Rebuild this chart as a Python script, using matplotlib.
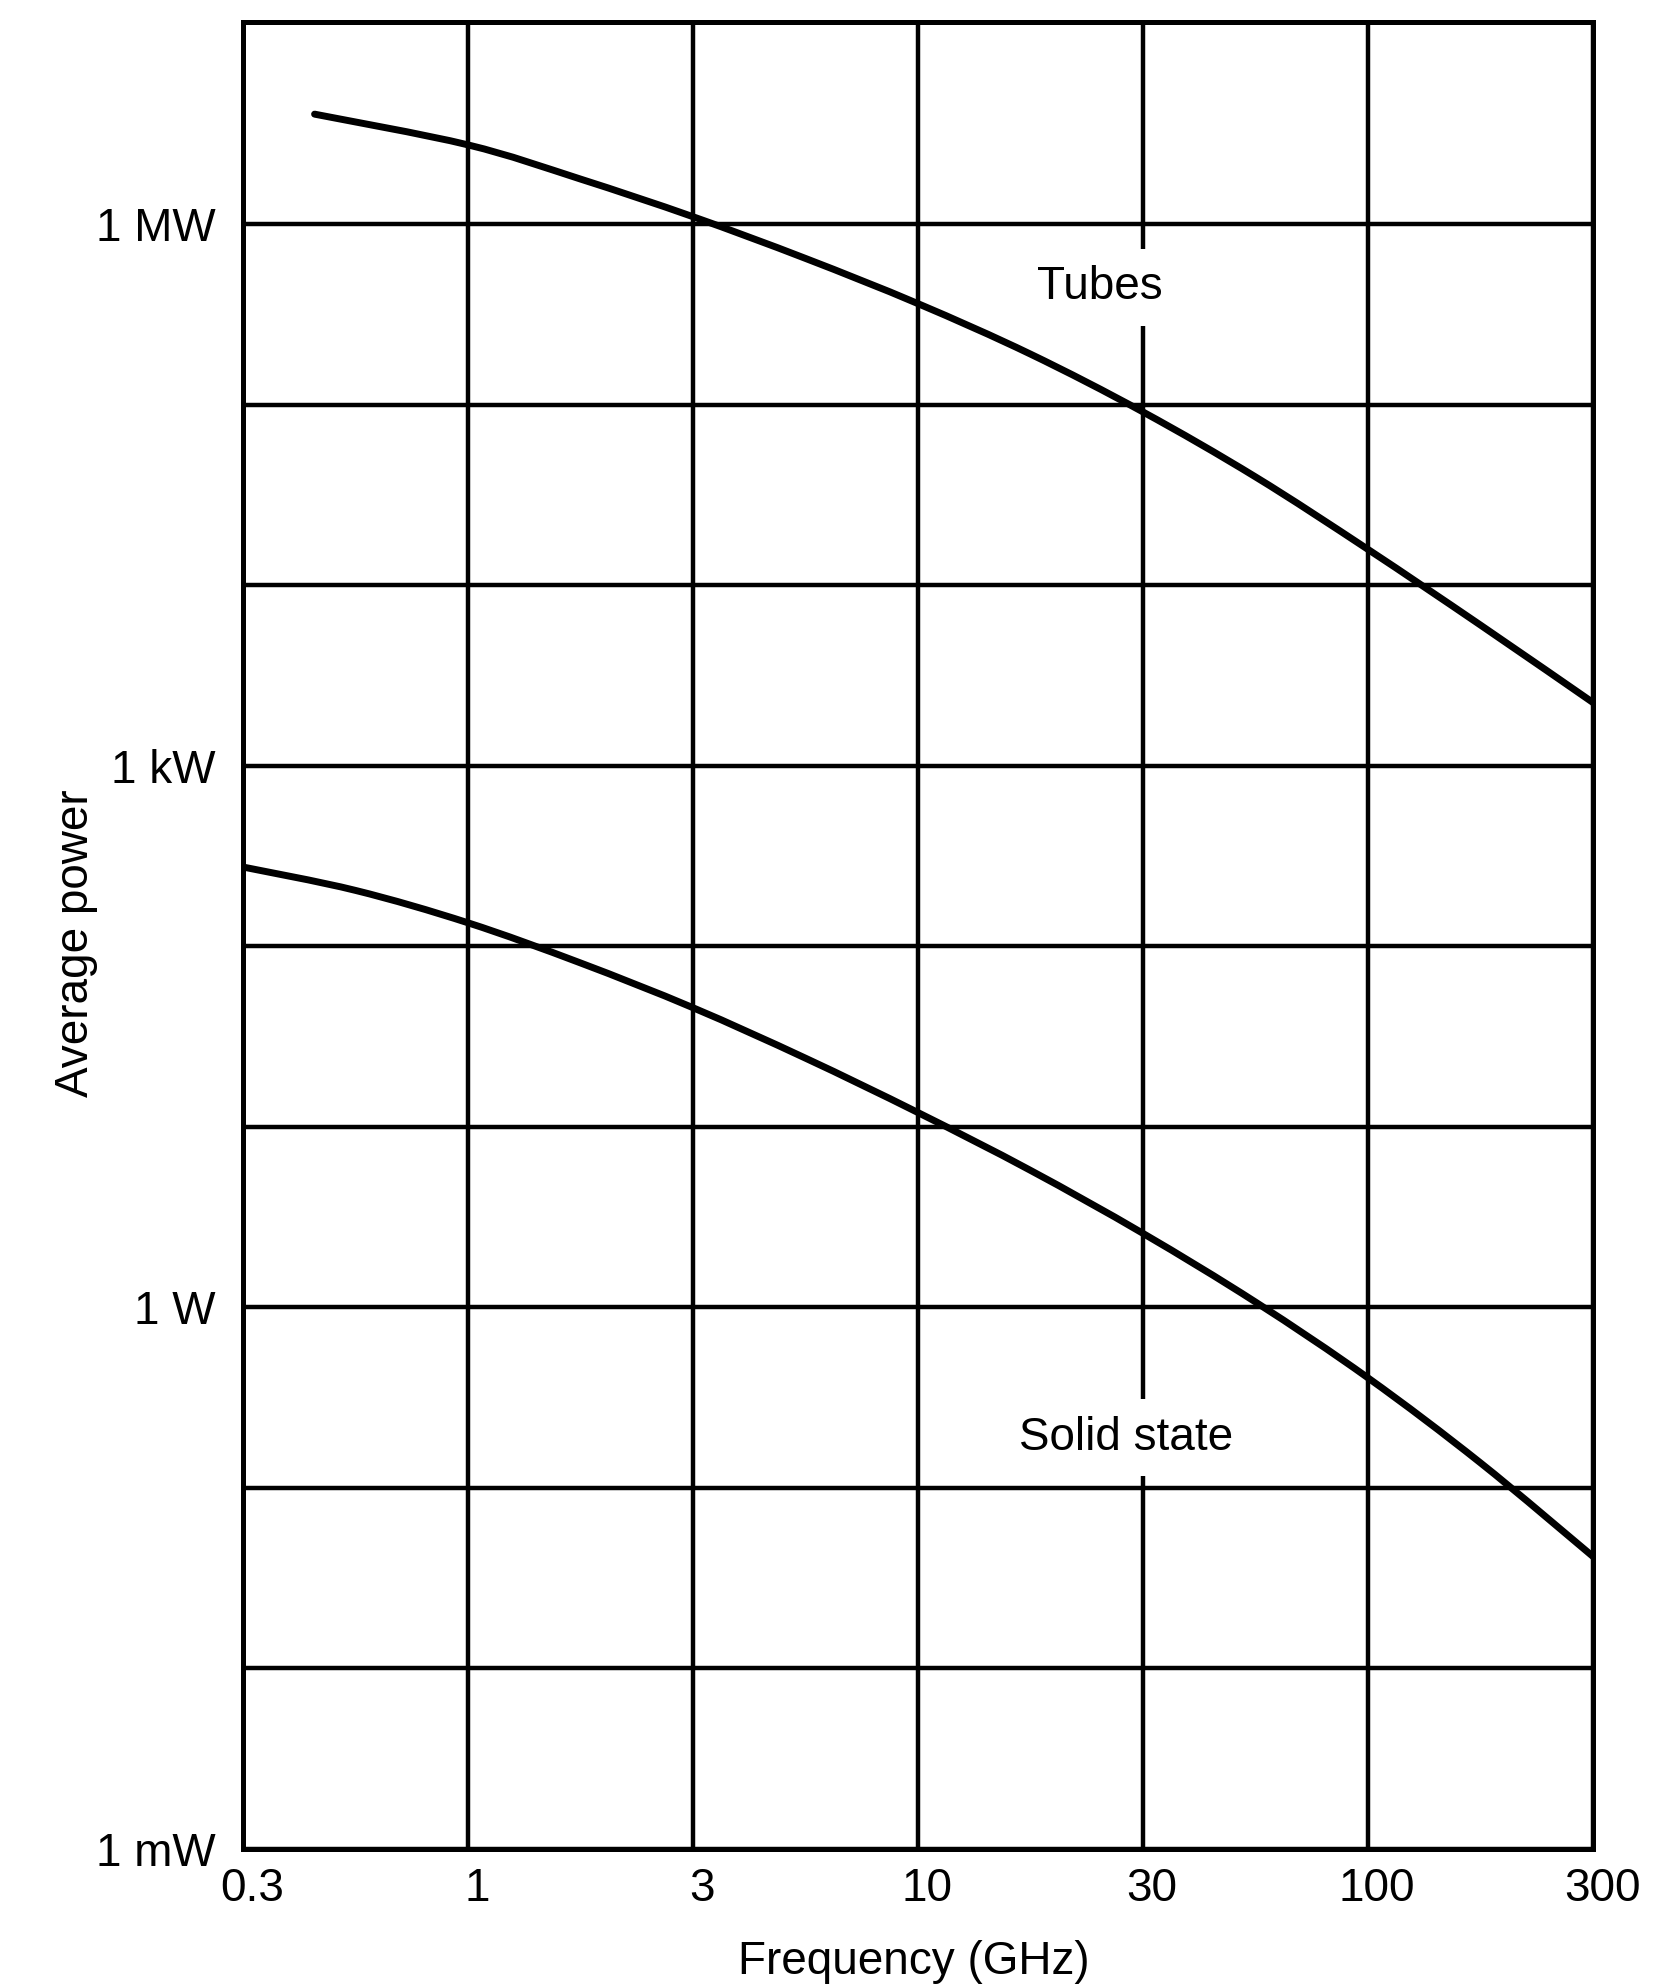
import numpy as np
import matplotlib
matplotlib.use("Agg")
import matplotlib.pyplot as plt
from matplotlib.ticker import FixedLocator, FixedFormatter, NullLocator
from matplotlib.transforms import ScaledTranslation
from matplotlib.path import Path
from matplotlib.patches import PathPatch

plt.rcParams['font.family'] = ['Liberation Sans', 'DejaVu Sans']

# Frequency axis ticks (GHz) and their labels
freq_ticks = [0.3, 1, 3, 10, 30, 100, 300]
freq_labels = ["0.3", "1", "3", "10", "30", "100", "300"]

# Power axis: gridline at every decade, labels only at every third
power_ticks = [1e-3, 1e-2, 1e-1, 1e0, 1e1, 1e2, 1e3, 1e4, 1e5, 1e6]
power_labels = ["1 mW", "", "", "1 W", "", "", "1 kW", "", "", "1 MW"]

# Tubes: average power (W) vs frequency (GHz)
tubes_freq = [0.44, 1, 1.73, 3, 5.48, 10, 17.3, 30, 54.8, 100, 173, 300]
tubes_power = [4.07e6, 2.75e6, 1.78e6, 1.10e6, 6.46e5, 3.63e5, 1.91e5,
               9.12e4, 3.98e4, 1.58e4, 6.03e3, 2.24e3]

# Solid-state devices: average power (W) vs frequency (GHz)
solid_freq = [0.3, 0.548, 1, 1.73, 3, 5.48, 10, 17.3, 30, 54.8, 100, 173, 300]
solid_power = [275, 204, 135, 81, 45.7, 24, 12.0, 5.75, 2.57, 1.07, 0.407,
               0.138, 0.0417]

# Frequency scale: labelled ticks are equally spaced, log-interpolated between
_logt = np.log10(np.array(freq_ticks, dtype=float))
_idx = np.arange(len(freq_ticks), dtype=float)


def _fwd(x):
    lx = np.log10(np.clip(np.asarray(x, dtype=float), 1e-12, None))
    y = np.interp(lx, _logt, _idx)
    y = np.where(lx < _logt[0], (lx - _logt[0]) / (_logt[1] - _logt[0]), y)
    y = np.where(lx > _logt[-1],
                 _idx[-1] + (lx - _logt[-1]) / (_logt[-1] - _logt[-2]), y)
    return y


def _inv(y):
    y = np.asarray(y, dtype=float)
    lx = np.interp(y, _idx, _logt)
    lx = np.where(y < 0, _logt[0] + y * (_logt[1] - _logt[0]), lx)
    lx = np.where(y > _idx[-1],
                  _logt[-1] + (y - _idx[-1]) * (_logt[-1] - _logt[-2]), lx)
    return 10 ** lx


def smooth_path(freq, power):
    """Catmull-Rom curve through the points, built in scale space and
    expressed back in data units so the axes transform places it."""
    pts = np.column_stack([_fwd(freq), np.log10(power)])
    n = len(pts)
    verts = [pts[0]]
    codes = [Path.MOVETO]
    for i in range(n - 1):
        p0 = pts[max(i - 1, 0)]
        p1 = pts[i]
        p2 = pts[i + 1]
        p3 = pts[min(i + 2, n - 1)]
        verts += [p1 + (p2 - p0) / 6, p2 - (p3 - p1) / 6, p2]
        codes += [Path.CURVE4] * 3
    verts = np.array(verts)
    data = np.column_stack([_inv(verts[:, 0]), 10 ** verts[:, 1]])
    return Path(data, codes)


W, H = 1661, 1985
fig = plt.figure(figsize=(W / 100, H / 100), dpi=100)
ax = fig.add_axes([243 / W, 1 - 1849 / H, (1593 - 243) / W, (1849 - 22) / H])

ax.set_xscale('function', functions=(_fwd, _inv))
ax.set_yscale('log')
ax.set_xlim(freq_ticks[0], freq_ticks[-1])
ax.set_ylim(1e-3, 10 ** 7.12)

ax.xaxis.set_major_locator(FixedLocator(freq_ticks))
ax.xaxis.set_major_formatter(FixedFormatter(freq_labels))
ax.xaxis.set_minor_locator(NullLocator())
ax.yaxis.set_major_locator(FixedLocator(power_ticks))
ax.yaxis.set_major_formatter(FixedFormatter(power_labels))
ax.yaxis.set_minor_locator(NullLocator())

ax.grid(True, which='major', color='black', linewidth=3.2, zorder=1)
ax.set_axisbelow(True)
for sp in ax.spines.values():
    sp.set_linewidth(3.6)
    sp.set_color('black')

ax.tick_params(axis='both', length=0, labelsize=33, colors='black')
ax.tick_params(axis='y', pad=20)
ax.tick_params(axis='x', pad=13)
shift = ScaledTranslation(9 / 100, 0, fig.dpi_scale_trans)
for lbl in ax.get_xticklabels():
    lbl.set_transform(lbl.get_transform() + shift)

for fq, pw in [(tubes_freq, tubes_power), (solid_freq, solid_power)]:
    ax.add_patch(PathPatch(smooth_path(fq, pw), fill=False, edgecolor='black',
                           linewidth=5, capstyle='round', zorder=4))

box = dict(boxstyle='square,pad=0.36', facecolor='white', edgecolor='none')
ax.text(0.635, 0.8547, "Tubes", transform=ax.transAxes, fontsize=33,
        ha='center', va='center', bbox=box, zorder=3)
ax.text(0.654, 0.225, "Solid state", transform=ax.transAxes, fontsize=33,
        ha='center', va='center', bbox=box, zorder=3)

fig.text(76 / W, 1 - 943 / H, "Average power", fontsize=33, rotation=90,
         ha='center', va='center')
fig.text(914 / W, 1 - 1962 / H, "Frequency (GHz)", fontsize=33,
         ha='center', va='center')

fig.savefig("out.png", dpi=100, facecolor='white')
